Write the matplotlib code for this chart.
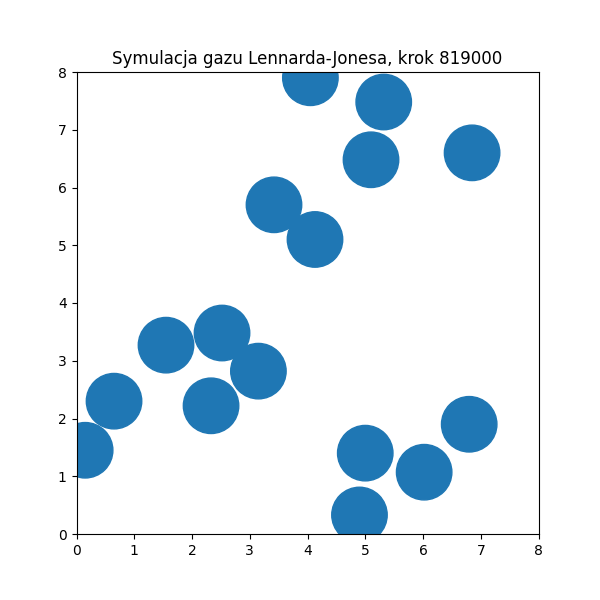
import matplotlib
matplotlib.use("Agg")
import matplotlib.pyplot as plt
from matplotlib.patches import Circle

xs = [0.15, 0.65, 1.55, 2.52, 2.33, 3.15, 3.42, 4.13, 4.05, 5.10, 5.32, 6.85, 6.80, 6.02, 5.00, 4.90]
ys = [1.45, 2.30, 3.27, 3.48, 2.22, 2.82, 5.70, 5.10, 7.90, 6.48, 7.48, 6.60, 1.90, 1.07, 1.40, 0.33]
radius = 0.48

fig, ax = plt.subplots(figsize=(6, 6), dpi=100)
for x, y in zip(xs, ys):
    ax.add_patch(Circle((x, y), radius, color="#1f77b4"))
ax.set_xlim(0, 8)
ax.set_ylim(0, 8)
ax.set_aspect("equal")
ax.set_title("Symulacja gazu Lennarda-Jonesa, krok 819000")
fig.savefig("out.png")
